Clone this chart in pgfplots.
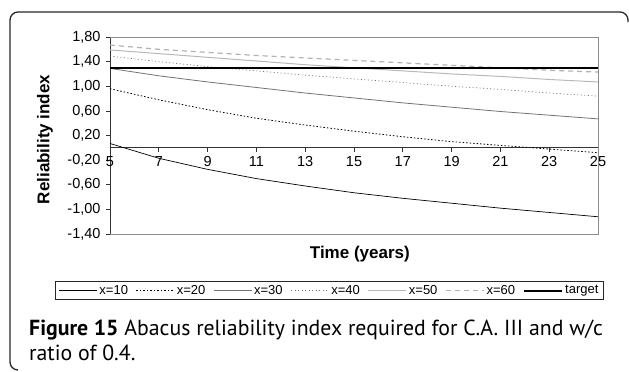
\documentclass[border=0pt]{standalone}
\usepackage{pgfplots}
\pgfplotsset{compat=1.18}
\usepackage{pgfplotstable}
\usepackage{fontspec}
\setmainfont{Liberation Sans}
\newfontfamily\capfont{PT Sans}
\pgfplotstableread{
t x10 x20 x30 x40 x50 x60
5 0.07 0.96 1.29 1.49 1.59 1.67
7 -0.17 0.78 1.17 1.40 1.53 1.60
9 -0.35 0.62 1.07 1.32 1.47 1.55
11 -0.50 0.48 0.98 1.25 1.41 1.50
13 -0.62 0.37 0.89 1.18 1.35 1.46
15 -0.73 0.27 0.81 1.12 1.30 1.42
17 -0.82 0.18 0.73 1.06 1.25 1.38
19 -0.90 0.10 0.66 1.00 1.20 1.34
21 -0.98 0.04 0.59 0.95 1.16 1.30
23 -1.05 -0.02 0.53 0.89 1.11 1.26
25 -1.12 -0.08 0.47 0.84 1.07 1.23
}\data
\begin{document}
\begin{tikzpicture}
\path[use as bounding box] (0,0) rectangle (629bp,-372bp);
\draw[line width=1.3bp, black!85, rounded corners=8bp] (18bp,-370bp) -- (10bp,-370bp) -- (10bp,-12bp) -- (628bp,-12bp) -- (628bp,-22bp);
\begin{axis}[
  at={(110bp,-234bp)}, anchor=south west,
  scale only axis, width=488bp, height=197bp,
  xmin=5, xmax=25, ymin=-1.4, ymax=1.8,
  axis x line=middle, axis y line=left,
  axis line style={-, black!80, line width=0.8bp},
  hide obscured x ticks=false,
  xtick={5,7,...,25},
  ytick={-1.4,-1.0,-0.6,-0.2,0.2,0.6,1.0,1.4,1.8},
  tick align=outside,
  major tick length=4bp,
  tick style={black!80, line width=0.7bp},
  yticklabel style={/pgf/number format/fixed, /pgf/number format/fixed zerofill, /pgf/number format/precision=2, /pgf/number format/use comma, /pgf/number format/assume math mode=true, xshift=-2bp},
  xticklabel style={/pgf/number format/assume math mode=true, yshift=-1bp},
  ticklabel style={font=\fontsize{14.5bp}{16bp}\selectfont},
  xlabel={Time (years)}, ylabel={Reliability index},
  every axis x label/.style={at={(rel axis cs:0.512,-0.104)}, anchor=center, font=\fontsize{17bp}{19bp}\selectfont\bfseries},
  every axis y label/.style={at={(rel axis cs:-0.133,0.48)}, anchor=center, rotate=90, font=\fontsize{17bp}{19bp}\selectfont\bfseries},
  legend columns=7,
  legend style={at={(rel axis cs:0.45,-0.287)}, anchor=center, draw=black!85, line width=0.8bp,
    font=\fontsize{13bp}{15bp}\selectfont, /tikz/every even column/.append style={column sep=6bp},
    inner xsep=3bp, inner ysep=2bp},
  legend image code/.code={\draw[#1] (0bp,0bp) -- (38bp,0bp);},
  clip=false,
]
\draw[black!45, line width=0.7bp] (rel axis cs:0,0) -- (rel axis cs:1,0) -- (rel axis cs:1,1) -- (rel axis cs:0,1);
\addplot[black, line width=0.7bp] table[x=t,y=x10] {\data};
\addlegendentry{x=10}
\addplot[black, line width=0.8bp, dash pattern=on 1.5bp off 2bp] table[x=t,y=x20] {\data};
\addlegendentry{x=20}
\addplot[black!55, line width=0.8bp] table[x=t,y=x30] {\data};
\addlegendentry{x=30}
\addplot[black!55, line width=0.7bp, dash pattern=on 1bp off 2.5bp] table[x=t,y=x40] {\data};
\addlegendentry{x=40}
\addplot[black!28, line width=1bp] table[x=t,y=x50] {\data};
\addlegendentry{x=50}
\addplot[black!30, line width=1.2bp, dash pattern=on 5bp off 4bp] table[x=t,y=x60] {\data};
\addlegendentry{x=60}
\addplot[black, line width=2bp] coordinates {(5,1.30) (25,1.30)};
\addlegendentry{target}
\end{axis}
\node[anchor=base west, font=\capfont\fontsize{21.8bp}{25bp}\selectfont, inner sep=0] at (29bp,-335bp)
  {{\bfseries Figure 15} Abacus reliability index required for C.A. III and w/c};
\node[anchor=base west, font=\capfont\fontsize{21.8bp}{25bp}\selectfont, inner sep=0] at (29bp,-360bp)
  {ratio of 0.4.};
\end{tikzpicture}
\end{document}
